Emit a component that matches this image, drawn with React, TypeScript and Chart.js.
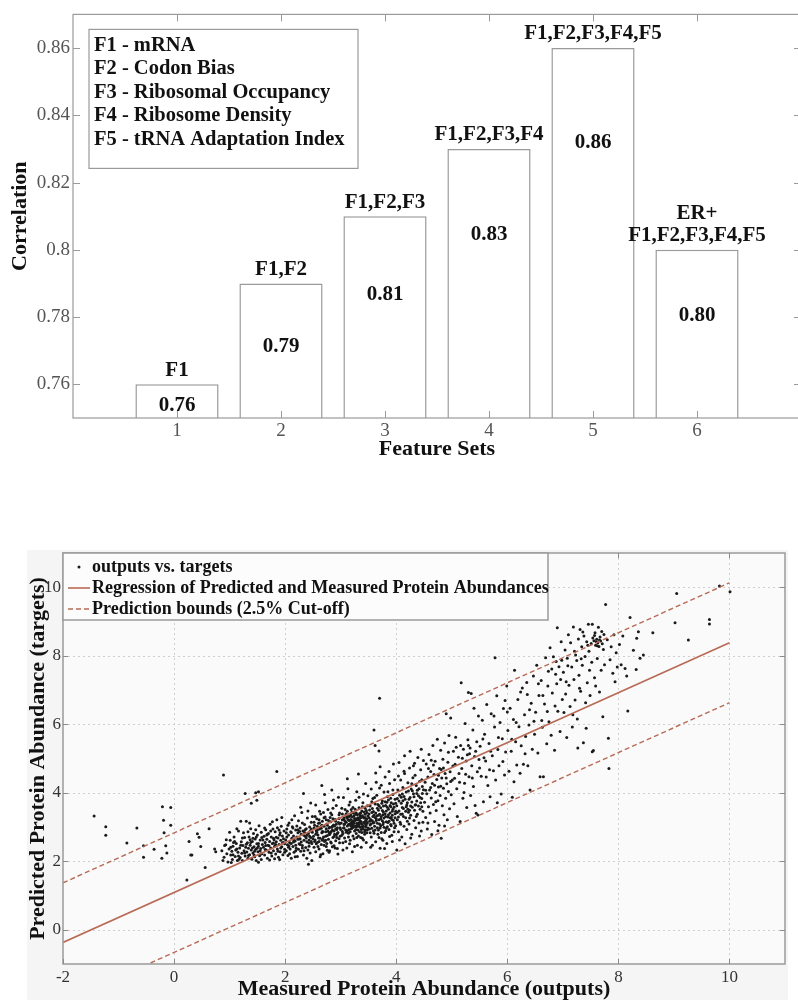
import React, { useEffect, useRef } from "react";
import { Chart, registerables } from "chart.js";
Chart.register(...registerables);

// ---------- Top chart data ----------
const featureSetIds = [1, 2, 3, 4, 5, 6];
const correlations = [0.76, 0.79, 0.81, 0.83, 0.86, 0.8];
const correlationText = ["0.76", "0.79", "0.81", "0.83", "0.86", "0.80"];
const valueLabelAt = [0.7536, 0.7711, 0.7866, 0.8044, 0.8318, 0.7804];
const featureSetNames = [
  ["F1"],
  ["F1,F2"],
  ["F1,F2,F3"],
  ["F1,F2,F3,F4"],
  ["F1,F2,F3,F4,F5"],
  ["ER+", "F1,F2,F3,F4,F5"],
];
const featureLegend = [
  "F1 - mRNA",
  "F2 - Codon Bias",
  "F3 - Ribosomal Occupancy",
  "F4 - Ribosome Density",
  "F5 - tRNA Adaptation Index",
];
const barXTicks = [1, 2, 3, 4, 5, 6];
const barYTicks = [0.76, 0.78, 0.8, 0.82, 0.84, 0.86];

// ---------- Bottom chart data ----------
const farLeftPoints: number[][] = [
  [-1.44, 3.32], [-1.23, 3.01], [-1.23, 2.76], [-0.85, 2.53], [-0.67, 2.97], [-0.55, 2.45], [-0.55, 2.12],
  [-0.36, 2.35], [-0.21, 3.59], [-0.19, 3.2], [-0.18, 2.83], [-0.15, 2.45], [-0.22, 2.09], [-0.13, 2.24],
  [-0.06, 3.57], [-0.06, 3.05], [0.23, 1.45], [0.27, 2.58], [0.3, 2.18], [0.42, 2.8], [0.45, 2.7], [0.48, 2.43],
  [0.56, 1.82], [0.63, 2.95], [0.73, 2.36], [0.89, 4.52], [0.91, 2.46], [1.07, 2.55], [1.2, 3.17], [1.3, 3.17],
  [1.28, 3.98], [1.47, 4.0], [1.49, 3.78], [1.39, 3.69], [1.52, 4.03], [1.85, 4.62], [2.33, 3.98], [2.42, 1.91],
  [0.32, 2.18], [0.75, 2.28],
];
const lowBandPoints: number[][] = [
  [0.86, 2.31], [0.9, 2.12], [0.93, 2.48], [0.95, 2.22], [0.97, 1.98], [0.99, 2.36], [1.01, 2.61], [1.02, 2.18],
  [1.04, 2.29], [1.05, 2.05], [1.06, 2.44], [1.08, 2.71], [1.1, 2.14], [1.11, 2.33], [1.12, 2.52], [1.14, 2.02],
  [1.15, 2.26], [1.16, 2.88], [1.18, 2.39], [1.19, 2.11], [1.21, 2.57], [1.22, 2.23], [1.23, 2.02], [1.24, 2.46],
  [1.26, 2.31], [1.27, 2.69], [1.28, 2.15], [1.29, 2.41], [0.94, 2.63], [1.0, 2.85], [1.13, 2.95], [1.25, 2.83],
  [0.88, 2.02], [1.03, 1.96], [1.17, 2.06],
  [1.31, 2.27], [1.32, 2.54], [1.33, 2.09], [1.34, 2.38], [1.35, 2.71], [1.36, 2.19], [1.37, 2.47], [1.38, 2.95],
  [1.39, 2.33], [1.4, 2.06], [1.41, 2.58], [1.42, 2.24], [1.43, 2.81], [1.44, 2.42], [1.45, 2.13], [1.46, 2.65],
  [1.47, 2.35], [1.48, 2.02], [1.49, 2.51], [1.5, 2.77], [1.51, 2.28], [1.52, 2.44], [1.53, 3.04], [1.54, 2.16],
  [1.55, 2.62], [1.56, 2.37], [1.57, 2.85], [1.58, 2.22], [1.59, 2.49], [1.33, 2.86], [1.36, 3.12], [1.42, 2.67],
  [1.47, 2.92], [1.52, 1.97], [1.55, 2.31], [1.58, 2.69], [1.44, 2.18], [1.38, 2.55], [1.5, 2.39], [1.57, 2.05],
  [1.61, 2.41], [1.62, 2.73], [1.63, 2.18], [1.64, 2.55], [1.65, 2.92], [1.66, 2.33], [1.67, 2.64], [1.68, 2.09],
  [1.69, 2.47], [1.7, 2.81], [1.71, 2.26], [1.72, 2.58], [1.73, 3.08], [1.74, 2.39], [1.75, 2.71], [1.76, 2.15],
  [1.77, 2.52], [1.78, 2.94], [1.79, 2.31], [1.8, 2.63], [1.81, 2.44], [1.82, 2.86], [1.83, 2.21], [1.84, 2.57],
  [1.85, 3.21], [1.86, 2.36], [1.87, 2.68], [1.88, 2.12], [1.89, 2.49], [1.9, 2.77], [1.91, 2.28], [1.92, 2.61],
  [1.93, 3.02], [1.94, 2.42], [1.95, 2.74], [1.96, 2.19], [1.97, 2.55], [1.98, 2.88], [1.99, 2.35], [1.63, 2.97],
  [1.68, 2.79], [1.72, 2.04], [1.77, 3.15], [1.81, 2.07], [1.86, 2.98], [1.9, 2.05], [1.94, 3.28], [1.97, 2.66],
  [1.65, 2.46], [1.74, 2.88], [1.79, 2.53], [1.84, 2.7], [1.89, 2.91], [1.92, 2.39], [1.99, 2.51],
];
const coreBandPoints: number[][] = [
  [2.01, 2.62], [2.02, 2.31], [2.03, 2.94], [2.04, 2.48], [2.05, 2.17], [2.06, 2.77], [2.07, 3.12], [2.08, 2.55],
  [2.09, 2.36], [2.1, 2.86], [2.11, 2.09], [2.12, 2.67], [2.13, 3.01], [2.14, 2.43], [2.15, 2.74], [2.16, 2.26],
  [2.17, 3.33], [2.18, 2.59], [2.19, 2.91], [2.2, 2.38], [2.21, 2.71], [2.22, 2.14], [2.23, 2.83], [2.24, 3.18],
  [2.25, 2.51], [2.26, 2.65], [2.27, 2.97], [2.28, 2.29], [2.29, 2.79], [2.3, 3.42], [2.31, 2.46], [2.32, 2.88],
  [2.33, 2.18], [2.34, 2.61], [2.35, 3.07], [2.36, 2.73], [2.37, 2.4], [2.38, 2.95], [2.39, 2.57], [2.4, 3.26],
  [2.41, 2.33], [2.42, 2.81], [2.43, 2.62], [2.44, 3.0], [2.45, 2.24], [2.46, 2.69], [2.47, 3.14], [2.48, 2.52],
  [2.49, 2.85], [2.02, 2.83], [2.05, 3.05], [2.08, 2.22], [2.11, 2.52], [2.14, 2.97], [2.16, 2.61], [2.19, 2.47],
  [2.21, 3.03], [2.24, 2.35], [2.26, 2.87], [2.29, 2.56], [2.31, 3.12], [2.34, 2.31], [2.36, 2.92], [2.38, 2.68],
  [2.41, 3.47], [2.43, 2.44], [2.45, 2.88], [2.47, 2.58], [2.49, 3.31], [2.12, 3.21], [2.18, 2.13], [2.23, 2.64],
  [2.28, 3.58], [2.33, 2.77], [2.39, 2.09], [2.44, 2.73], [2.48, 2.02], [2.06, 2.41], [2.27, 2.49], [2.46, 3.7],
  [2.51, 2.73], [2.52, 2.41], [2.53, 3.05], [2.54, 2.62], [2.55, 2.28], [2.56, 2.89], [2.57, 3.24], [2.58, 2.55],
  [2.59, 2.77], [2.6, 3.11], [2.61, 2.36], [2.62, 2.94], [2.63, 2.67], [2.64, 3.38], [2.65, 2.49], [2.66, 2.83],
  [2.67, 3.17], [2.68, 2.22], [2.69, 2.71], [2.7, 3.02], [2.71, 2.58], [2.72, 3.29], [2.73, 2.86], [2.74, 2.43],
  [2.75, 3.09], [2.76, 2.75], [2.77, 3.51], [2.78, 2.64], [2.79, 2.97], [2.8, 2.31], [2.81, 2.82], [2.82, 3.15],
  [2.83, 2.53], [2.84, 3.36], [2.85, 2.91], [2.86, 2.69], [2.87, 3.06], [2.88, 2.45], [2.89, 2.79], [2.9, 3.22],
  [2.91, 2.6], [2.92, 3.63], [2.93, 2.93], [2.94, 2.37], [2.95, 2.84], [2.96, 3.13], [2.97, 2.66], [2.98, 3.41],
  [2.99, 2.98], [2.52, 2.97], [2.54, 3.31], [2.56, 2.51], [2.58, 3.02], [2.6, 2.68], [2.62, 3.46], [2.64, 2.19],
  [2.66, 3.05], [2.68, 2.86], [2.7, 2.47], [2.72, 3.71], [2.74, 2.95], [2.76, 2.32], [2.78, 3.19], [2.8, 2.78],
  [2.82, 2.56], [2.84, 2.99], [2.86, 3.55], [2.88, 2.72], [2.9, 2.39], [2.92, 3.08], [2.94, 2.81], [2.96, 3.87],
  [2.98, 2.54], [2.53, 2.58], [2.57, 2.84], [2.61, 3.21], [2.65, 2.96], [2.69, 3.42], [2.73, 2.61], [2.77, 2.88],
  [2.81, 3.28], [2.85, 2.42], [2.89, 3.03], [2.93, 2.69], [2.97, 3.25], [2.55, 3.64], [2.63, 2.13], [2.71, 3.95],
  [2.79, 2.26], [2.87, 3.79], [2.95, 2.21], [2.59, 2.43], [2.67, 2.61], [2.75, 2.52], [2.83, 2.87], [2.91, 2.94],
  [2.99, 2.73], [2.66, 4.21], [2.84, 4.08],
  [3.01, 3.12], [3.02, 2.76], [3.03, 3.38], [3.04, 2.54], [3.05, 2.97], [3.06, 3.26], [3.07, 2.68], [3.08, 3.51],
  [3.09, 2.91], [3.1, 3.14], [3.11, 2.39], [3.12, 3.03], [3.13, 3.31], [3.14, 2.82], [3.15, 3.64], [3.16, 3.09],
  [3.17, 2.61], [3.18, 3.22], [3.19, 2.95], [3.2, 3.43], [3.21, 3.16], [3.22, 2.74], [3.23, 3.05], [3.24, 3.33],
  [3.25, 2.88], [3.26, 3.19], [3.27, 3.78], [3.28, 2.99], [3.29, 3.11], [3.3, 2.47], [3.31, 3.27], [3.32, 3.02],
  [3.33, 3.56], [3.34, 2.86], [3.35, 3.17], [3.36, 3.41], [3.37, 2.93], [3.38, 3.08], [3.39, 2.67], [3.4, 3.29],
  [3.41, 3.96], [3.42, 3.14], [3.43, 2.79], [3.44, 3.37], [3.45, 3.01], [3.46, 2.55], [3.47, 3.23], [3.48, 3.62],
  [3.49, 2.97], [3.02, 3.55], [3.04, 2.33], [3.06, 2.98], [3.08, 3.17], [3.1, 2.85], [3.12, 3.46], [3.14, 3.07],
  [3.16, 2.51], [3.18, 3.35], [3.2, 2.96], [3.22, 3.18], [3.24, 2.66], [3.26, 3.52], [3.28, 3.24], [3.3, 3.06],
  [3.32, 2.74], [3.34, 3.39], [3.36, 3.13], [3.38, 2.84], [3.4, 3.71], [3.42, 3.26], [3.44, 2.92], [3.46, 3.48],
  [3.48, 3.12], [3.03, 2.87], [3.07, 3.09], [3.11, 3.28], [3.15, 2.93], [3.19, 3.13], [3.23, 3.41], [3.27, 3.03],
  [3.31, 3.21], [3.35, 2.99], [3.39, 3.33], [3.43, 3.1], [3.47, 2.83], [3.05, 3.86], [3.13, 4.12], [3.21, 2.28],
  [3.29, 4.03], [3.37, 2.41], [3.45, 4.27], [3.09, 2.58], [3.17, 3.73], [3.25, 2.43], [3.33, 3.87], [3.41, 2.62],
  [3.49, 3.91], [3.06, 3.21], [3.14, 2.71], [3.22, 3.57], [3.3, 3.36], [3.38, 3.47], [3.46, 3.16], [3.2, 3.09],
  [3.28, 2.81], [3.36, 2.69], [3.44, 3.55], [3.12, 4.41], [3.32, 4.55],
];
const denseCorePoints: number[][] = [
  [1.02, 2.41], [1.06, 2.19], [1.09, 2.58], [1.13, 2.36], [1.16, 2.15], [1.2, 2.47], [1.23, 2.68], [1.27, 2.24],
  [1.3, 2.5], [1.34, 2.17], [1.37, 2.63], [1.41, 2.39], [1.45, 2.29], [1.48, 2.71], [1.52, 2.52], [1.56, 2.21],
  [1.6, 2.62], [1.64, 2.34], [1.67, 2.77], [1.71, 2.45], [1.75, 2.24], [1.79, 2.67], [1.83, 2.49], [1.87, 2.29],
  [1.91, 2.83], [1.95, 2.54], [1.99, 2.26], [2.03, 2.71], [2.07, 2.45], [2.11, 2.84], [2.15, 2.56], [2.19, 2.31],
  [2.23, 2.92], [2.27, 2.66], [2.31, 2.39], [2.35, 2.84], [2.39, 2.76], [2.43, 2.53], [2.47, 2.94], [2.5, 2.66],
  [2.52, 3.14], [2.55, 2.79], [2.58, 2.91], [2.61, 2.58], [2.64, 3.01], [2.67, 2.87], [2.7, 3.27], [2.73, 2.73],
  [2.76, 3.05], [2.79, 2.84], [2.82, 3.41], [2.85, 3.02], [2.88, 2.88], [2.91, 3.17], [2.94, 2.98], [2.97, 3.36],
  [3.0, 2.93], [3.03, 3.21], [3.06, 3.07], [3.09, 3.34], [3.12, 2.89], [3.15, 3.19], [3.18, 3.04], [3.21, 3.29],
  [3.24, 3.12], [3.27, 2.92], [3.3, 3.21], [3.33, 3.06], [3.36, 3.27], [3.39, 3.01], [3.42, 3.44], [3.45, 3.19],
  [3.48, 2.91], [3.51, 3.38], [3.54, 3.22], [3.57, 3.54], [3.6, 3.13], [3.63, 3.41], [3.66, 2.98], [3.69, 3.62],
  [3.72, 3.24], [3.75, 3.48], [3.78, 2.99], [3.81, 3.31], [3.84, 3.58], [3.87, 3.17], [3.9, 3.84], [3.93, 3.46],
  [3.96, 3.11], [3.99, 3.69], [4.02, 3.42], [4.05, 3.76], [4.08, 3.08], [4.11, 3.57], [4.14, 3.89], [4.17, 3.46],
  [4.2, 3.17], [4.23, 3.81], [4.26, 3.61], [4.29, 4.06], [3.13, 3.22], [3.17, 2.86], [3.23, 2.99], [3.27, 3.37],
  [3.31, 2.91], [3.35, 3.33], [3.37, 3.15], [3.41, 3.02], [3.44, 3.28], [3.47, 3.42], [3.19, 3.51], [3.25, 3.25],
  [3.29, 2.69], [3.33, 3.12], [3.39, 3.59], [3.43, 2.86], [3.49, 3.32], [3.53, 2.83], [3.58, 3.31], [3.62, 2.91],
  [3.68, 3.34], [3.73, 2.84], [3.77, 3.61], [3.82, 2.96], [3.86, 3.36], [3.91, 3.04], [3.95, 3.67], [2.62, 3.12],
  [2.68, 2.64], [2.74, 3.21], [2.8, 2.99], [2.86, 3.24], [2.92, 2.77], [2.98, 3.09], [3.04, 2.81], [3.1, 3.39],
  [3.16, 3.31], [3.22, 3.01], [3.28, 3.41], [3.34, 3.24], [3.4, 2.94], [3.46, 3.06], [3.52, 3.17], [3.56, 2.96],
  [3.64, 3.19], [3.7, 3.09], [3.76, 3.36], [3.8, 3.74], [3.85, 3.13], [3.89, 3.27], [3.94, 3.52], [3.98, 3.27],
  [4.04, 3.29], [4.09, 3.87], [4.13, 3.31], [4.19, 3.64], [4.24, 3.49], [4.28, 3.73], [4.33, 3.49], [4.37, 3.98],
  [4.4, 3.61], [4.43, 3.86], [4.46, 3.59], [4.49, 4.09],
];
const midBandPoints: number[][] = [
  [3.51, 3.27], [3.52, 2.94], [3.53, 3.61], [3.54, 3.09], [3.55, 2.71], [3.56, 3.42], [3.57, 3.18], [3.58, 3.83],
  [3.59, 2.88], [3.6, 3.35], [3.61, 3.02], [3.62, 3.67], [3.63, 2.57], [3.64, 3.24], [3.65, 3.93], [3.66, 3.11],
  [3.67, 2.79], [3.68, 3.49], [3.69, 3.21], [3.7, 4.14], [3.71, 2.97], [3.72, 3.56], [3.73, 3.31], [3.74, 2.66],
  [3.75, 3.76], [3.76, 3.07], [3.77, 3.44], [3.78, 4.02], [3.79, 2.84], [3.8, 3.38], [3.81, 3.63], [3.82, 3.15],
  [3.83, 2.52], [3.84, 3.88], [3.85, 3.29], [3.86, 3.52], [3.87, 2.93], [3.88, 4.27], [3.89, 3.41], [3.9, 3.07],
  [3.91, 3.71], [3.92, 2.76], [3.93, 3.34], [3.94, 4.08], [3.95, 3.19], [3.96, 3.58], [3.97, 2.98], [3.98, 3.81],
  [3.99, 3.46], [3.52, 3.5], [3.54, 2.41], [3.56, 3.74], [3.58, 3.12], [3.6, 2.82], [3.62, 3.28], [3.64, 4.31],
  [3.66, 3.55], [3.68, 2.91], [3.7, 3.37], [3.72, 3.04], [3.74, 3.69], [3.76, 2.61], [3.78, 3.26], [3.8, 4.46],
  [3.82, 3.47], [3.84, 3.01], [3.86, 3.79], [3.88, 2.72], [3.9, 3.59], [3.92, 3.22], [3.94, 3.95], [3.96, 2.86],
  [3.98, 3.39], [3.53, 3.06], [3.57, 2.47], [3.61, 3.86], [3.65, 3.33], [3.69, 2.69], [3.73, 4.22], [3.77, 3.13],
  [3.81, 2.89], [3.85, 4.03], [3.89, 3.63], [3.93, 2.58], [3.97, 4.38], [3.55, 4.11], [3.63, 4.58], [3.71, 4.76],
  [3.79, 2.37], [3.87, 4.62], [3.95, 4.84], [3.59, 3.45], [3.67, 3.66], [3.75, 3.18], [3.83, 3.72], [3.91, 3.28],
  [3.99, 3.04], [3.6, 5.83], [3.7, 6.76], [3.62, 5.38], [3.69, 5.22], [3.71, 2.38],
  [4.01, 3.62], [4.02, 3.21], [4.03, 4.08], [4.04, 2.86], [4.05, 3.47], [4.06, 3.93], [4.07, 3.14], [4.08, 4.37],
  [4.09, 3.69], [4.1, 2.71], [4.11, 3.38], [4.12, 4.15], [4.13, 3.54], [4.14, 3.02], [4.15, 4.56], [4.16, 3.81],
  [4.17, 3.27], [4.18, 4.02], [4.19, 2.93], [4.2, 3.71], [4.21, 4.29], [4.22, 3.43], [4.23, 3.09], [4.24, 4.72],
  [4.25, 3.86], [4.26, 3.34], [4.27, 4.11], [4.28, 2.79], [4.29, 3.58], [4.3, 4.44], [4.31, 3.97], [4.32, 3.19],
  [4.33, 4.86], [4.34, 3.64], [4.35, 2.98], [4.36, 4.21], [4.37, 3.76], [4.38, 3.37], [4.39, 5.03], [4.4, 3.91],
  [4.41, 3.12], [4.42, 4.33], [4.43, 3.52], [4.44, 4.67], [4.45, 2.88], [4.46, 3.83], [4.47, 4.18], [4.48, 3.46],
  [4.49, 4.94], [4.02, 3.83], [4.04, 4.49], [4.06, 2.62], [4.08, 3.37], [4.12, 3.77], [4.14, 4.63], [4.16, 2.51],
  [4.18, 3.59], [4.22, 4.05], [4.24, 3.26], [4.26, 2.68], [4.28, 4.26], [4.32, 3.88], [4.34, 4.51], [4.36, 3.31],
  [4.38, 4.07], [4.42, 2.74], [4.44, 3.71], [4.46, 4.38], [4.48, 3.14], [4.05, 4.88], [4.15, 5.08], [4.25, 5.21],
  [4.35, 3.65], [4.45, 5.27], [4.01, 2.33], [4.11, 3.96], [4.21, 3.52], [4.31, 4.79], [4.41, 4.12], [4.47, 3.98],
  [4.51, 3.72], [4.52, 4.31], [4.53, 3.28], [4.54, 4.84], [4.55, 3.97], [4.56, 2.94], [4.57, 4.46], [4.58, 3.59],
  [4.59, 5.12], [4.6, 4.08], [4.61, 3.41], [4.62, 4.62], [4.63, 3.85], [4.64, 2.78], [4.65, 4.27], [4.66, 5.38],
  [4.67, 3.66], [4.68, 4.53], [4.69, 3.16], [4.7, 4.92], [4.71, 4.01], [4.72, 3.48], [4.73, 4.39], [4.74, 5.56],
  [4.75, 3.77], [4.76, 4.17], [4.77, 3.05], [4.78, 4.71], [4.79, 3.92], [4.8, 5.24], [4.81, 2.67], [4.82, 4.43],
  [4.83, 3.62], [4.84, 4.98], [4.85, 4.13], [4.86, 3.36], [4.87, 5.45], [4.88, 4.56], [4.89, 3.84], [4.9, 6.31],
  [4.91, 4.26], [4.92, 3.21], [4.93, 4.89], [4.94, 4.04], [4.95, 5.67], [4.96, 3.53], [4.97, 4.61], [4.98, 6.18],
  [4.99, 3.94], [4.57, 3.12], [4.63, 4.95], [4.69, 4.22], [4.75, 2.89], [4.81, 4.68], [4.87, 3.03],
  [4.53, 4.07], [4.58, 4.71], [4.62, 4.15], [4.67, 4.81], [4.71, 3.74], [4.76, 4.51], [4.8, 4.19], [4.85, 4.72],
  [4.9, 4.43], [4.94, 5.18], [4.98, 4.33],
];
const upperBandPoints: number[][] = [
  [5.01, 4.37], [5.03, 5.21], [5.04, 3.68], [5.06, 4.83], [5.07, 5.62], [5.09, 4.12], [5.1, 3.31], [5.12, 5.04],
  [5.13, 4.56], [5.15, 3.16], [5.16, 5.38], [5.17, 7.21], [5.18, 4.71], [5.2, 3.84], [5.21, 5.27], [5.23, 4.28],
  [5.24, 6.02], [5.26, 4.93], [5.27, 3.57], [5.29, 5.55], [5.3, 6.93], [5.31, 4.47], [5.32, 5.14], [5.34, 3.92],
  [5.35, 6.9], [5.36, 4.79], [5.38, 5.83], [5.39, 4.18], [5.41, 5.06], [5.42, 3.63], [5.44, 3.4], [5.45, 5.49],
  [5.46, 4.61], [5.48, 6.24], [5.49, 4.97], [5.05, 4.42], [5.22, 4.01], [5.28, 5.11], [5.33, 5.31], [5.4, 6.47],
  [5.47, 3.35], [5.02, 4.78], [5.08, 5.33], [5.14, 4.31], [5.19, 5.01], [5.25, 4.54], [5.3, 5.38], [5.37, 4.43],
  [5.43, 5.21], [5.5, 4.72],
  [5.51, 5.36], [5.53, 4.48], [5.55, 6.12], [5.57, 3.74], [5.59, 5.71], [5.61, 4.93], [5.63, 6.58], [5.65, 4.21],
  [5.67, 5.44], [5.69, 3.88], [5.71, 6.31], [5.73, 5.08], [5.75, 4.64], [5.77, 5.92], [5.78, 7.94], [5.79, 4.37],
  [5.81, 6.83], [5.83, 5.26], [5.85, 4.79], [5.87, 6.05], [5.89, 3.96], [5.91, 5.58], [5.93, 6.46], [5.95, 4.52],
  [5.97, 5.19], [5.99, 7.12], [5.58, 5.02], [5.68, 4.67], [5.82, 3.71], [5.96, 6.69], [5.56, 5.57], [5.62, 4.46],
  [5.7, 5.21], [5.76, 6.24], [5.84, 5.61], [5.92, 4.91],
  [6.01, 5.82], [6.03, 4.63], [6.05, 6.47], [6.07, 5.21], [6.09, 3.87], [6.11, 6.14], [6.13, 7.58], [6.15, 5.49],
  [6.17, 4.81], [6.19, 6.72], [6.21, 5.93], [6.23, 4.57], [6.25, 5.37], [6.27, 7.06], [6.29, 4.83], [6.31, 6.28],
  [6.33, 5.64], [6.35, 7.22], [6.37, 4.79], [6.39, 5.98], [6.41, 4.08], [6.43, 6.61], [6.45, 5.27], [6.47, 7.41],
  [6.49, 5.71], [6.12, 4.32], [6.36, 6.87], [6.0, 6.36], [6.08, 5.56], [6.16, 6.05], [6.24, 6.94], [6.32, 5.14],
  [6.4, 6.42], [6.48, 6.09],
  [6.51, 6.35], [6.53, 7.72], [6.55, 5.16], [6.57, 6.84], [6.59, 4.47], [6.61, 7.28], [6.63, 5.91], [6.65, 4.47],
  [6.67, 6.59], [6.69, 7.94], [6.71, 5.43], [6.73, 7.12], [6.75, 6.07], [6.77, 8.23], [6.79, 5.68], [6.81, 6.91],
  [6.83, 7.97], [6.85, 5.24], [6.87, 7.46], [6.88, 7.83], [6.9, 8.82], [6.91, 6.38], [6.93, 7.68], [6.95, 5.79],
  [6.97, 8.41], [6.99, 6.72], [6.62, 6.11], [6.74, 7.55], [6.86, 6.53], [6.96, 7.31], [6.56, 7.18], [6.64, 6.84],
  [6.72, 6.37], [6.8, 7.61], [6.89, 7.18], [6.98, 7.87],
];
const topBandPoints: number[][] = [
  [7.01, 7.52], [7.02, 6.34], [7.04, 8.17], [7.05, 6.88], [7.07, 5.61], [7.08, 7.93], [7.1, 8.61], [7.11, 7.14],
  [7.13, 6.52], [7.14, 8.38], [7.16, 7.67], [7.17, 5.92], [7.19, 8.84], [7.2, 7.31], [7.22, 6.71], [7.23, 8.02],
  [7.25, 7.86], [7.26, 6.15], [7.28, 8.49], [7.29, 7.43], [7.31, 8.77], [7.32, 6.96], [7.34, 8.26], [7.35, 7.72],
  [7.37, 5.46], [7.38, 8.58], [7.4, 7.98], [7.41, 6.63], [7.43, 8.41], [7.44, 7.21], [7.46, 8.92], [7.47, 8.13],
  [7.49, 6.84], [7.06, 7.24], [7.18, 6.28], [7.3, 7.05], [7.36, 8.69], [7.42, 5.88], [7.48, 7.58], [7.27, 5.31],
  [7.09, 7.71], [7.21, 8.13], [7.33, 7.91], [7.45, 8.31],
  [7.51, 8.36], [7.52, 7.81], [7.53, 5.2], [7.54, 8.52], [7.55, 5.23], [7.56, 8.44], [7.57, 7.36], [7.58, 8.67],
  [7.59, 8.31], [7.6, 8.41], [7.61, 8.48], [7.62, 7.92], [7.63, 8.38], [7.64, 8.83], [7.65, 8.27], [7.66, 6.94],
  [7.67, 8.55], [7.68, 8.43], [7.69, 7.58], [7.7, 8.71], [7.71, 8.35], [7.72, 6.22], [7.73, 8.18], [7.74, 8.62],
  [7.75, 7.74], [7.77, 9.5], [7.8, 8.47], [7.82, 5.59], [7.83, 4.71], [7.85, 7.88], [7.87, 8.26], [7.9, 7.49],
  [7.92, 8.61], [7.94, 7.24], [7.96, 8.09], [7.98, 7.67], [7.57, 8.59], [7.62, 8.29], [7.66, 8.46], [7.53, 8.92],
  [7.59, 7.12],
  [8.02, 8.33], [8.05, 7.74], [8.08, 8.58], [8.12, 7.63], [8.15, 7.41], [8.17, 6.39], [8.21, 9.12], [8.33, 8.51],
  [8.36, 8.7], [8.39, 7.93], [8.32, 7.6], [8.27, 8.16], [8.45, 8.02], [8.62, 8.67], [9.02, 8.96], [9.05, 9.82],
  [9.26, 8.46], [9.64, 9.06], [9.64, 8.93], [9.82, 10.04], [10.01, 9.87],
];
const outputsVsTargets = [
  ...farLeftPoints, ...lowBandPoints, ...coreBandPoints, ...denseCorePoints,
  ...midBandPoints, ...upperBandPoints, ...topBandPoints,
];
const lineX = [-2, 10];
const regressionY = [-0.37, 8.38];
const upperBoundY = [1.37, 10.13];
const lowerBoundY = [-2.12, 6.63];
const scatterXTicks = [-2, 0, 2, 4, 6, 8, 10];
const scatterYTicks = [0, 2, 4, 6, 8, 10];
const scatterLegendLabels = [
  "outputs vs. targets",
  "Regression of Predicted and Measured Protein Abundances",
  "Prediction bounds (2.5% Cut-off)",
];

const SERIF = '"Liberation Serif", "Times New Roman", serif';
const LINE_COLOR = "#b86a55";
const AXIS_COLOR = "#9a9a9a";

const setTicks = (values: number[]) => (scale: any) => {
  scale.ticks = values.map((v) => ({ value: v }));
};

function drawInwardTicks(chart: any, len: number, color: string) {
  const { ctx, chartArea: a } = chart;
  const xs = chart.scales.x;
  const ys = chart.scales.y;
  ctx.save();
  ctx.strokeStyle = color;
  ctx.lineWidth = 1;
  ctx.beginPath();
  xs.ticks.forEach((t: any) => {
    const px = Math.round(xs.getPixelForValue(t.value)) + 0.5;
    ctx.moveTo(px, a.bottom);
    ctx.lineTo(px, a.bottom - len);
    ctx.moveTo(px, a.top);
    ctx.lineTo(px, a.top + len);
  });
  ys.ticks.forEach((t: any) => {
    const py = Math.round(ys.getPixelForValue(t.value)) + 0.5;
    ctx.moveTo(a.left, py);
    ctx.lineTo(a.left + len, py);
    ctx.moveTo(a.right, py);
    ctx.lineTo(a.right - len, py);
  });
  ctx.stroke();
  ctx.restore();
}

const barDecor = {
  id: "barDecor",
  afterDraw(chart: any) {
    const { ctx, chartArea: a } = chart;
    const ys = chart.scales.y;
    ctx.save();
    ctx.strokeStyle = AXIS_COLOR;
    ctx.lineWidth = 1.2;
    ctx.strokeRect(a.left, a.top, a.right - a.left, a.bottom - a.top);
    ctx.restore();
    drawInwardTicks(chart, 7, AXIS_COLOR);

    const meta = chart.getDatasetMeta(0);
    ctx.save();
    ctx.fillStyle = "#111";
    ctx.font = `bold 21px ${SERIF}`;
    ctx.textAlign = "center";
    ctx.textBaseline = "middle";
    meta.data.forEach((el: any, i: number) => {
      const lines = featureSetNames[i];
      lines.forEach((txt, j) => {
        const offset = (lines.length - 1 - j) * 22 + 14;
        ctx.fillText(txt, el.x, el.y - offset);
      });
      ctx.fillText(correlationText[i], el.x, ys.getPixelForValue(valueLabelAt[i]));
    });

    const bx = a.left + 16;
    const by = a.top + 15;
    ctx.fillStyle = "#ffffff";
    ctx.fillRect(bx, by, 269, 139);
    ctx.strokeStyle = AXIS_COLOR;
    ctx.lineWidth = 1.2;
    ctx.strokeRect(bx, by, 269, 139);
    ctx.fillStyle = "#111";
    ctx.textAlign = "left";
    ctx.font = `bold 20.5px ${SERIF}`;
    featureLegend.forEach((txt, i) => {
      ctx.fillText(txt, bx + 5, by + 16 + i * 23.5);
    });
    ctx.restore();
  },
};

const scatterDecor = {
  id: "scatterDecor",
  beforeDraw(chart: any) {
    const { ctx, chartArea: a } = chart;
    ctx.save();
    ctx.fillStyle = "#f5f5f5";
    ctx.fillRect(27, 50, 761, 450);
    ctx.fillStyle = "#fafafa";
    ctx.fillRect(a.left, a.top, a.right - a.left, a.bottom - a.top);
    ctx.restore();
  },
  beforeDatasetsDraw(chart: any) {
    const { ctx, chartArea: a } = chart;
    const xs = chart.scales.x;
    const ys = chart.scales.y;
    ctx.save();
    ctx.strokeStyle = "#cfcfcf";
    ctx.lineWidth = 1;
    ctx.setLineDash([2, 3]);
    ctx.beginPath();
    xs.ticks.forEach((t: any) => {
      const px = Math.round(xs.getPixelForValue(t.value)) + 0.5;
      if (px <= a.left + 1 || px >= a.right - 1) return;
      ctx.moveTo(px, a.top);
      ctx.lineTo(px, a.bottom);
    });
    ys.ticks.forEach((t: any) => {
      const py = Math.round(ys.getPixelForValue(t.value)) + 0.5;
      if (py <= a.top + 1 || py >= a.bottom - 1) return;
      ctx.moveTo(a.left, py);
      ctx.lineTo(a.right, py);
    });
    ctx.stroke();
    ctx.restore();
  },
  afterDatasetsDraw(chart: any) {
    const { ctx, chartArea: a } = chart;
    ctx.save();
    ctx.strokeStyle = AXIS_COLOR;
    ctx.lineWidth = 1.5;
    ctx.strokeRect(a.left, a.top, a.right - a.left, a.bottom - a.top);
    ctx.restore();
    drawInwardTicks(chart, 5, "#8a8a8a");

    const bx = a.left;
    const by = a.top;
    const bw = 485;
    const bh = 67;
    ctx.save();
    ctx.fillStyle = "#fcfcfc";
    ctx.fillRect(bx, by, bw, bh);
    ctx.strokeStyle = AXIS_COLOR;
    ctx.lineWidth = 1.5;
    ctx.strokeRect(bx, by, bw, bh);
    const rows = [14, 35, 56];
    const ds = chart.data.datasets;
    ctx.fillStyle = ds[3].backgroundColor;
    ctx.beginPath();
    ctx.arc(bx + 16, by + rows[0], 1.5, 0, Math.PI * 2);
    ctx.fill();
    ctx.strokeStyle = ds[0].borderColor;
    ctx.lineWidth = ds[0].borderWidth;
    ctx.beginPath();
    ctx.moveTo(bx + 5, by + rows[1]);
    ctx.lineTo(bx + 27, by + rows[1]);
    ctx.stroke();
    ctx.strokeStyle = ds[1].borderColor;
    ctx.lineWidth = ds[1].borderWidth;
    ctx.setLineDash(ds[1].borderDash);
    ctx.beginPath();
    ctx.moveTo(bx + 5, by + rows[2]);
    ctx.lineTo(bx + 27, by + rows[2]);
    ctx.stroke();
    ctx.setLineDash([]);
    ctx.fillStyle = "#111";
    ctx.font = `bold 18px ${SERIF}`;
    ctx.textAlign = "left";
    ctx.textBaseline = "middle";
    scatterLegendLabels.forEach((txt, i) => {
      ctx.fillText(txt, bx + 29, by + rows[i]);
    });
    ctx.restore();
  },
};

function BarChart() {
  const ref = useRef<HTMLCanvasElement>(null);
  useEffect(() => {
    const chart = new Chart(ref.current as HTMLCanvasElement, {
      type: "bar",
      data: {
        datasets: [
          {
            data: featureSetIds.map((x, i) => ({ x, y: correlations[i] })),
            backgroundColor: "#ffffff",
            borderColor: AXIS_COLOR,
            borderWidth: 1.5,
            barPercentage: 0.8,
            categoryPercentage: 1.0,
          },
        ],
      },
      options: {
        responsive: false,
        animation: false,
        devicePixelRatio: 1,
        layout: { padding: { left: 0, top: 10, right: 9, bottom: 0 } },
        plugins: { legend: { display: false }, tooltip: { enabled: false } },
        scales: {
          x: {
            type: "linear",
            min: 0,
            max: 7,
            offset: false,
            grid: { display: false, drawTicks: false },
            border: { display: false },
            afterBuildTicks: setTicks(barXTicks),
            afterFit: (s: any) => {
              s.height = 52;
            },
            ticks: {
              padding: 2,
              color: "#555",
              font: { family: SERIF, size: 19 },
              callback: (v: any) => String(v),
            },
            title: {
              display: true,
              text: "Feature Sets",
              color: "#111",
              font: { family: SERIF, size: 22, weight: "bold" },
              padding: { top: 0, bottom: 7 },
            },
          },
          y: {
            type: "linear",
            min: 0.75,
            max: 0.87,
            beginAtZero: false,
            grid: { display: false, drawTicks: false },
            border: { display: false },
            afterBuildTicks: setTicks(barYTicks),
            afterFit: (s: any) => {
              s.width = 73;
            },
            ticks: {
              padding: 3,
              color: "#555",
              font: { family: SERIF, size: 19 },
              callback: (v: any) => String(Number(Number(v).toFixed(2))),
            },
            title: {
              display: true,
              text: "Correlation",
              color: "#111",
              font: { family: SERIF, size: 22, weight: "bold" },
              padding: { top: 7, bottom: 0 },
            },
          },
        },
      } as any,
      plugins: [barDecor],
    } as any);
    return () => chart.destroy();
  }, []);
  return (
    <canvas
      ref={ref}
      width={810}
      height={470}
      style={{ position: "absolute", left: 0, top: 0, width: 810, height: 470 }}
    />
  );
}

function ScatterChart() {
  const ref = useRef<HTMLCanvasElement>(null);
  useEffect(() => {
    const toXY = (ys: number[]) => lineX.map((x, i) => ({ x, y: ys[i] }));
    const chart = new Chart(ref.current as HTMLCanvasElement, {
      type: "scatter",
      data: {
        datasets: [
          {
            label: scatterLegendLabels[1],
            data: toXY(regressionY),
            showLine: true,
            borderColor: LINE_COLOR,
            borderWidth: 1.6,
            pointRadius: 0,
            order: 0,
          },
          {
            label: scatterLegendLabels[2],
            data: toXY(upperBoundY),
            showLine: true,
            borderColor: LINE_COLOR,
            borderWidth: 1.4,
            borderDash: [5, 3],
            pointRadius: 0,
            order: 0,
          },
          {
            label: "",
            data: toXY(lowerBoundY),
            showLine: true,
            borderColor: LINE_COLOR,
            borderWidth: 1.4,
            borderDash: [5, 3],
            pointRadius: 0,
            order: 0,
          },
          {
            label: scatterLegendLabels[0],
            data: outputsVsTargets.map((p) => ({ x: p[0], y: p[1] })),
            backgroundColor: "#1a1a1a",
            borderWidth: 0,
            pointRadius: 1.5,
            order: 1,
          },
        ],
      },
      options: {
        responsive: false,
        animation: false,
        devicePixelRatio: 1,
        layout: { padding: { left: 0, top: 53, right: 13, bottom: 0 } },
        plugins: { legend: { display: false }, tooltip: { enabled: false } },
        scales: {
          x: {
            type: "linear",
            min: -2,
            max: 11,
            grid: { display: false, drawTicks: false },
            border: { display: false },
            afterBuildTicks: setTicks(scatterXTicks),
            afterFit: (s: any) => {
              s.height = 56;
            },
            ticks: {
              padding: 3,
              color: "#333",
              font: { family: SERIF, size: 17 },
              callback: (v: any) => String(v),
            },
            title: {
              display: true,
              text: "Measured Protein Abundance (outputs)",
              color: "#111",
              font: { family: SERIF, size: 22, weight: "bold" },
              padding: { top: 0, bottom: 17 },
            },
          },
          y: {
            type: "linear",
            min: -1,
            max: 11,
            grid: { display: false, drawTicks: false },
            border: { display: false },
            afterBuildTicks: setTicks(scatterYTicks),
            afterFit: (s: any) => {
              s.width = 63;
            },
            ticks: {
              padding: 2,
              color: "#333",
              font: { family: SERIF, size: 17 },
              callback: (v: any) => String(v),
            },
            title: {
              display: true,
              text: "Predicted Protein Abundance (targets)",
              color: "#111",
              font: { family: SERIF, size: 22, weight: "bold" },
              padding: { top: 25, bottom: 0 },
            },
          },
        },
      } as any,
      plugins: [scatterDecor],
    } as any);
    return () => chart.destroy();
  }, []);
  return (
    <canvas
      ref={ref}
      width={798}
      height={520}
      style={{ position: "absolute", left: 0, top: 500, width: 798, height: 520 }}
    />
  );
}

export default function App() {
  return (
    <div
      style={{
        position: "fixed",
        left: 0,
        top: 0,
        width: 798,
        height: 1001,
        overflow: "hidden",
        background: "#ffffff",
      }}
    >
      <BarChart />
      <ScatterChart />
    </div>
  );
}
